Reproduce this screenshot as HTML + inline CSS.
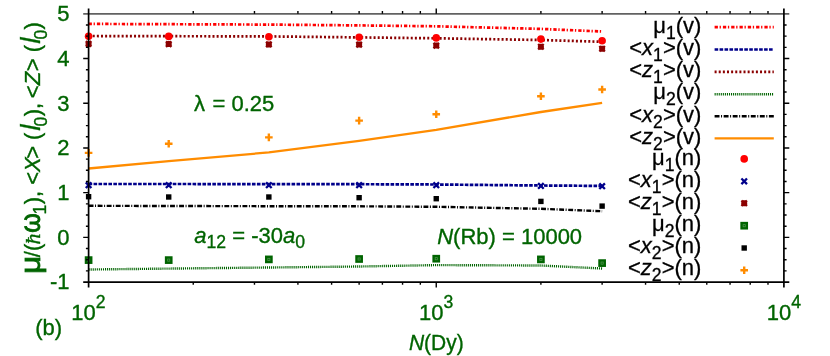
<!DOCTYPE html>
<html><head><meta charset="utf-8"><title>chart</title>
<style>html,body{margin:0;padding:0;background:#fff}svg{display:block;will-change:transform}text{font-family:"Liberation Sans",sans-serif;font-size:22px}.i{font-style:italic}.s{font-size:17.6px}.g{fill:#006400;stroke:#006400;stroke-width:0.35px}.k{fill:#000;stroke:#000;stroke-width:0.3px}</style></head><body>
<svg width="830" height="356" viewBox="0 0 830 356">
<rect width="830" height="356" fill="#fff"/>
<path d="M88.60,23.90 L168.72,24.20 L268.86,24.60 L359.12,25.40 L436.25,26.30 L540.90,28.90 L602.12,31.50" fill="none" stroke="#ff0000" stroke-width="2.7" stroke-dasharray="3.3 1.7 1.3 2.0"/>
<path d="M88.60,184.00 L168.72,184.00 L268.86,184.10 L359.12,184.20 L436.25,184.50 L540.90,185.50 L602.12,185.90" fill="none" stroke="#00008b" stroke-width="2.7" stroke-dasharray="3.6 1.35"/>
<path d="M88.60,36.00 L168.72,36.20 L268.86,36.40 L359.12,37.40 L436.25,38.30 L540.90,40.00 L602.12,41.80" fill="none" stroke="#8b0000" stroke-width="2.7" stroke-dasharray="2 2.13"/>
<path d="M88.60,269.50 L168.72,268.60 L268.86,267.50 L359.12,266.50 L436.25,265.10 L540.90,265.50 L602.12,268.50" fill="none" stroke="#006400" stroke-width="2.4" stroke-dasharray="1.1 0.95"/>
<path d="M88.60,205.80 L168.72,206.00 L268.86,206.20 L359.12,206.30 L436.25,206.80 L540.90,208.80 L602.12,211.20" fill="none" stroke="#000000" stroke-width="2.4" stroke-dasharray="4.9 1.55 1.0 1.6"/>
<path d="M88.60,168.50 L168.72,161.20 L268.86,152.40 L359.12,140.90 L436.25,129.80 L540.90,112.00 L602.12,102.80" fill="none" stroke="#ff8c00" stroke-width="2.3"/>
<circle cx="88.60" cy="36.20" r="3.8" fill="#ff0000"/><circle cx="168.72" cy="36.40" r="3.8" fill="#ff0000"/><circle cx="268.86" cy="36.70" r="3.8" fill="#ff0000"/><circle cx="359.12" cy="37.20" r="3.8" fill="#ff0000"/><circle cx="436.25" cy="37.90" r="3.8" fill="#ff0000"/><circle cx="540.90" cy="39.10" r="3.8" fill="#ff0000"/><circle cx="602.12" cy="40.80" r="3.8" fill="#ff0000"/>
<path d="M85.80,182.40L91.40,188.00M85.80,188.00L91.40,182.40" stroke="#00008b" stroke-width="2.3" fill="none"/><path d="M165.92,182.40L171.52,188.00M165.92,188.00L171.52,182.40" stroke="#00008b" stroke-width="2.3" fill="none"/><path d="M266.06,182.40L271.66,188.00M266.06,188.00L271.66,182.40" stroke="#00008b" stroke-width="2.3" fill="none"/><path d="M356.32,182.40L361.92,188.00M356.32,188.00L361.92,182.40" stroke="#00008b" stroke-width="2.3" fill="none"/><path d="M433.45,182.40L439.05,188.00M433.45,188.00L439.05,182.40" stroke="#00008b" stroke-width="2.3" fill="none"/><path d="M538.10,183.10L543.70,188.70M538.10,188.70L543.70,183.10" stroke="#00008b" stroke-width="2.3" fill="none"/><path d="M599.32,183.40L604.92,189.00M599.32,189.00L604.92,183.40" stroke="#00008b" stroke-width="2.3" fill="none"/>
<path d="M85.85,41.15L91.35,46.65M85.85,46.65L91.35,41.15M85.60,43.90L91.60,43.90M88.60,40.90L88.60,46.90" stroke="#8b0000" stroke-width="2.3" fill="none"/><path d="M165.97,41.35L171.47,46.85M165.97,46.85L171.47,41.35M165.72,44.10L171.72,44.10M168.72,41.10L168.72,47.10" stroke="#8b0000" stroke-width="2.3" fill="none"/><path d="M266.11,41.65L271.61,47.15M266.11,47.15L271.61,41.65M265.86,44.40L271.86,44.40M268.86,41.40L268.86,47.40" stroke="#8b0000" stroke-width="2.3" fill="none"/><path d="M356.37,41.85L361.87,47.35M356.37,47.35L361.87,41.85M356.12,44.60L362.12,44.60M359.12,41.60L359.12,47.60" stroke="#8b0000" stroke-width="2.3" fill="none"/><path d="M433.50,42.85L439.00,48.35M433.50,48.35L439.00,42.85M433.25,45.60L439.25,45.60M436.25,42.60L436.25,48.60" stroke="#8b0000" stroke-width="2.3" fill="none"/><path d="M538.15,44.05L543.65,49.55M538.15,49.55L543.65,44.05M537.90,46.80L543.90,46.80M540.90,43.80L540.90,49.80" stroke="#8b0000" stroke-width="2.3" fill="none"/><path d="M599.37,45.95L604.87,51.45M599.37,51.45L604.87,45.95M599.12,48.70L605.12,48.70M602.12,45.70L602.12,51.70" stroke="#8b0000" stroke-width="2.3" fill="none"/>
<rect x="85.95" y="257.45" width="5.3" height="5.3" fill="#4f974f" stroke="#006400" stroke-width="2.4"/><rect x="87.90" y="259.40" width="1.4" height="1.4" fill="#006400"/><rect x="166.07" y="257.45" width="5.3" height="5.3" fill="#4f974f" stroke="#006400" stroke-width="2.4"/><rect x="168.02" y="259.40" width="1.4" height="1.4" fill="#006400"/><rect x="266.21" y="256.75" width="5.3" height="5.3" fill="#4f974f" stroke="#006400" stroke-width="2.4"/><rect x="268.16" y="258.70" width="1.4" height="1.4" fill="#006400"/><rect x="356.47" y="256.35" width="5.3" height="5.3" fill="#4f974f" stroke="#006400" stroke-width="2.4"/><rect x="358.42" y="258.30" width="1.4" height="1.4" fill="#006400"/><rect x="433.60" y="256.05" width="5.3" height="5.3" fill="#4f974f" stroke="#006400" stroke-width="2.4"/><rect x="435.55" y="258.00" width="1.4" height="1.4" fill="#006400"/><rect x="538.25" y="256.75" width="5.3" height="5.3" fill="#4f974f" stroke="#006400" stroke-width="2.4"/><rect x="540.20" y="258.70" width="1.4" height="1.4" fill="#006400"/><rect x="599.47" y="260.45" width="5.3" height="5.3" fill="#4f974f" stroke="#006400" stroke-width="2.4"/><rect x="601.42" y="262.40" width="1.4" height="1.4" fill="#006400"/>
<rect x="85.90" y="194.00" width="5.4" height="5.4" fill="#000000"/><rect x="166.02" y="194.30" width="5.4" height="5.4" fill="#000000"/><rect x="266.16" y="194.30" width="5.4" height="5.4" fill="#000000"/><rect x="356.42" y="195.00" width="5.4" height="5.4" fill="#000000"/><rect x="433.55" y="196.00" width="5.4" height="5.4" fill="#000000"/><rect x="538.20" y="198.70" width="5.4" height="5.4" fill="#000000"/><rect x="599.42" y="203.40" width="5.4" height="5.4" fill="#000000"/>
<path d="M84.80,152.90L92.40,152.90M88.60,149.10L88.60,156.70" stroke="#ff8c00" stroke-width="2.4" fill="none"/><path d="M164.92,143.80L172.52,143.80M168.72,140.00L168.72,147.60" stroke="#ff8c00" stroke-width="2.4" fill="none"/><path d="M265.06,137.40L272.66,137.40M268.86,133.60L268.86,141.20" stroke="#ff8c00" stroke-width="2.4" fill="none"/><path d="M355.32,120.60L362.92,120.60M359.12,116.80L359.12,124.40" stroke="#ff8c00" stroke-width="2.4" fill="none"/><path d="M432.45,114.30L440.05,114.30M436.25,110.50L436.25,118.10" stroke="#ff8c00" stroke-width="2.4" fill="none"/><path d="M537.10,96.30L544.70,96.30M540.90,92.50L540.90,100.10" stroke="#ff8c00" stroke-width="2.4" fill="none"/><path d="M598.32,89.50L605.92,89.50M602.12,85.70L602.12,93.30" stroke="#ff8c00" stroke-width="2.4" fill="none"/>
<path d="M83.20,13.80H789.30" stroke="#000" stroke-opacity="0.62" stroke-width="1.7" fill="none"/>
<path d="M83.20,282.10H789.30" stroke="#000" stroke-width="1.8" fill="none"/>
<path d="M88.60,8.50V287.40M783.90,8.50V287.40" stroke="#000" stroke-width="1.7" fill="none"/>
<path d="M85.90,24.98H88.60M783.90,24.98H786.60M85.90,36.16H88.60M783.90,36.16H786.60M85.90,47.34H88.60M783.90,47.34H786.60M85.90,69.70H88.60M783.90,69.70H786.60M85.90,80.88H88.60M783.90,80.88H786.60M85.90,92.05H88.60M783.90,92.05H786.60M85.90,114.41H88.60M783.90,114.41H786.60M85.90,125.59H88.60M783.90,125.59H786.60M85.90,136.77H88.60M783.90,136.77H786.60M85.90,159.13H88.60M783.90,159.13H786.60M85.90,170.31H88.60M783.90,170.31H786.60M85.90,181.49H88.60M783.90,181.49H786.60M85.90,203.85H88.60M783.90,203.85H786.60M85.90,215.03H88.60M783.90,215.03H786.60M85.90,226.20H88.60M783.90,226.20H786.60M85.90,248.56H88.60M783.90,248.56H786.60M85.90,259.74H88.60M783.90,259.74H786.60M85.90,270.92H88.60M783.90,270.92H786.60M83.20,58.52H88.60M783.90,58.52H789.30M83.20,103.23H88.60M783.90,103.23H789.30M83.20,147.95H88.60M783.90,147.95H789.30M83.20,192.67H88.60M783.90,192.67H789.30M83.20,237.38H88.60M783.90,237.38H789.30M193.25,11.10V13.80M193.25,282.10V284.80M254.47,11.10V13.80M254.47,282.10V284.80M297.91,11.10V13.80M297.91,282.10V284.80M331.60,11.10V13.80M331.60,282.10V284.80M359.12,11.10V13.80M359.12,282.10V284.80M382.40,11.10V13.80M382.40,282.10V284.80M402.56,11.10V13.80M402.56,282.10V284.80M420.34,11.10V13.80M420.34,282.10V284.80M540.90,11.10V13.80M540.90,282.10V284.80M602.12,11.10V13.80M602.12,282.10V284.80M645.56,11.10V13.80M645.56,282.10V284.80M679.25,11.10V13.80M679.25,282.10V284.80M706.77,11.10V13.80M706.77,282.10V284.80M730.05,11.10V13.80M730.05,282.10V284.80M750.21,11.10V13.80M750.21,282.10V284.80M767.99,11.10V13.80M767.99,282.10V284.80M436.25,8.50V13.80M436.25,282.10V287.40" stroke="#000" stroke-width="1.4" fill="none"/>
<text class="k" x="701.4" y="32.75" text-anchor="end">μ<tspan class="s" dy="6.2">1</tspan><tspan dy="-6.2">(v)</tspan></text><path d="M714.60,27.20 L773.80,27.20" fill="none" stroke="#ff0000" stroke-width="2.7" stroke-dasharray="3.3 1.7 1.3 2.0"/>
<text class="k" x="701.4" y="54.75" text-anchor="end">&lt;<tspan class="i">x</tspan><tspan class="s" dy="6.2">1</tspan><tspan dy="-6.2">&gt;(v)</tspan></text><path d="M714.60,49.50 L773.80,49.50" fill="none" stroke="#00008b" stroke-width="2.7" stroke-dasharray="3.6 1.35"/>
<text class="k" x="701.4" y="77.15" text-anchor="end">&lt;<tspan class="i">z</tspan><tspan class="s" dy="6.2">1</tspan><tspan dy="-6.2">&gt;(v)</tspan></text><path d="M714.60,71.90 L773.80,71.90" fill="none" stroke="#8b0000" stroke-width="2.7" stroke-dasharray="2 2.13"/>
<text class="k" x="701.4" y="99.05" text-anchor="end">μ<tspan class="s" dy="6.2">2</tspan><tspan dy="-6.2">(v)</tspan></text><path d="M714.60,94.20 L773.80,94.20" fill="none" stroke="#006400" stroke-width="2.4" stroke-dasharray="1.1 0.95"/>
<text class="k" x="701.4" y="121.75" text-anchor="end">&lt;<tspan class="i">x</tspan><tspan class="s" dy="6.2">2</tspan><tspan dy="-6.2">&gt;(v)</tspan></text><path d="M714.60,116.20 L773.80,116.20" fill="none" stroke="#000000" stroke-width="2.4" stroke-dasharray="4.9 1.55 1.0 1.6"/>
<text class="k" x="701.4" y="143.75" text-anchor="end">&lt;<tspan class="i">z</tspan><tspan class="s" dy="6.2">2</tspan><tspan dy="-6.2">&gt;(v)</tspan></text><path d="M714.60,138.40 L773.80,138.40" fill="none" stroke="#ff8c00" stroke-width="2.3"/>
<text class="k" x="701.4" y="164.55" text-anchor="end">μ<tspan class="s" dy="6.2">1</tspan><tspan dy="-6.2">(n)</tspan></text><circle cx="744.20" cy="158.90" r="3.8" fill="#ff0000"/>
<text class="k" x="701.4" y="186.55" text-anchor="end">&lt;<tspan class="i">x</tspan><tspan class="s" dy="6.2">1</tspan><tspan dy="-6.2">&gt;(n)</tspan></text><path d="M741.40,178.50L747.00,184.10M741.40,184.10L747.00,178.50" stroke="#00008b" stroke-width="2.3" fill="none"/>
<text class="k" x="701.4" y="208.85" text-anchor="end">&lt;<tspan class="i">z</tspan><tspan class="s" dy="6.2">1</tspan><tspan dy="-6.2">&gt;(n)</tspan></text><path d="M741.45,200.55L746.95,206.05M741.45,206.05L746.95,200.55M741.20,203.30L747.20,203.30M744.20,200.30L744.20,206.30" stroke="#8b0000" stroke-width="2.3" fill="none"/>
<text class="k" x="701.4" y="230.85" text-anchor="end">μ<tspan class="s" dy="6.2">2</tspan><tspan dy="-6.2">(n)</tspan></text><rect x="741.55" y="223.05" width="5.3" height="5.3" fill="#4f974f" stroke="#006400" stroke-width="2.4"/><rect x="743.50" y="225.00" width="1.4" height="1.4" fill="#006400"/>
<text class="k" x="701.4" y="253.15" text-anchor="end">&lt;<tspan class="i">x</tspan><tspan class="s" dy="6.2">2</tspan><tspan dy="-6.2">&gt;(n)</tspan></text><rect x="741.50" y="245.30" width="5.4" height="5.4" fill="#000000"/>
<text class="k" x="701.4" y="275.15" text-anchor="end">&lt;<tspan class="i">z</tspan><tspan class="s" dy="6.2">2</tspan><tspan dy="-6.2">&gt;(n)</tspan></text><path d="M740.40,270.20L748.00,270.20M744.20,266.40L744.20,274.00" stroke="#ff8c00" stroke-width="2.4" fill="none"/>
<text class="g" x="69.6" y="21.00" text-anchor="end">5</text><text class="g" x="69.6" y="65.72" text-anchor="end">4</text><text class="g" x="69.6" y="111.13" text-anchor="end">3</text><text class="g" x="69.6" y="155.15" text-anchor="end">2</text><text class="g" x="69.6" y="199.87" text-anchor="end">1</text><text class="g" x="69.6" y="244.58" text-anchor="end">0</text><text class="g" x="69.6" y="289.30" text-anchor="end">-1</text>
<text class="g" x="88.50" y="319.9" text-anchor="middle">10<tspan class="s" dy="-11.8">2</tspan></text><text class="g" x="436.15" y="319.9" text-anchor="middle">10<tspan class="s" dy="-11.8">3</tspan></text><text class="g" x="783.80" y="319.9" text-anchor="middle">10<tspan class="s" dy="-11.8">4</tspan></text>
<text class="g" x="436.3" y="350.2" text-anchor="middle" textLength="54.8" lengthAdjust="spacingAndGlyphs"><tspan class="i">N</tspan>(Dy)</text>
<text class="g" x="35.2" y="334.8">(b)</text>
<text class="g" x="194.0" y="111">λ<tspan dx="1.4"> = 0.25</tspan></text>
<text class="g" x="194.3" y="242.8"><tspan class="i">a</tspan><tspan class="s" dy="5.5">12</tspan><tspan dy="-5.5"> = -30</tspan><tspan class="i">a</tspan><tspan class="s" dy="5.5">0</tspan></text>
<text class="g" x="437.2" y="243.7"><tspan class="i">N</tspan>(Rb) = 10000</text>
<g transform="translate(39.7,0) rotate(-90)"><text class="g" transform="translate(-274.00,0) scale(1.13,1)" x="0" y="0" style="font-size:28px;stroke-width:0.8px">μ</text><text class="g" x="-257.20" y="0">/(</text><text class="g" x="-244.60" y="0" style="font-family:'Liberation Serif',serif;font-style:italic">ħ</text><text class="g" transform="translate(-232.80,0) scale(0.89,1)" x="0" y="0" style="font-size:28px;stroke-width:0.9px">ω</text><text class="g s" x="-214.60" y="6.2">1</text><text class="g" x="-204.30" y="0">), &lt;<tspan class="i">X</tspan></text><text class="g" x="-158.70" y="0">&gt;</text><text class="g" x="-140.00" y="0">(</text><text class="g i" x="-130.80" y="0" style="font-size:28px">l</text><text class="g s" x="-126.60" y="7">0</text><text class="g" x="-116.30" y="0">),</text><text class="g" x="-98.20" y="0">&lt;<tspan class="i">Z</tspan></text><text class="g" x="-71.20" y="0">&gt; (</text><text class="g i" x="-43.80" y="0" style="font-size:28px">l</text><text class="g s" x="-39.60" y="7">0</text><text class="g" x="-29.60" y="0">)</text></g>
</svg>
</body></html>
